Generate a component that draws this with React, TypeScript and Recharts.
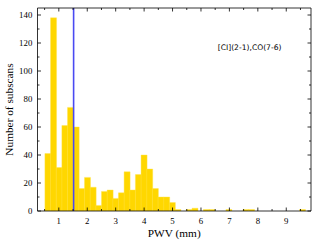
import React from 'react';
import { BarChart, Bar, XAxis, YAxis, ReferenceLine, ReferenceDot } from 'recharts';

// Histogram bins (PWV in mm)
const BIN_START = 0.51;
const BIN_WIDTH = 0.199;
const counts = [
  41, 138, 31, 61, 74, 60, 16, 24, 17, 4,
  14, 15, 9, 13, 28, 15, 26, 40, 30, 16,
  10, 10, 6, 1, 0, 1, 2, 0, 1, 1,
  0, 0, 1, 0, 0, 1, 1, 0, 0, 0,
  0, 0, 0, 0, 0, 1,
];
const xTicks = [0.5, 1, 1.5, 2, 2.5, 3, 3.5, 4, 4.5, 5, 5.5, 6, 6.5, 7, 7.5, 8, 8.5, 9, 9.5];
const yTicks = [0, 10, 20, 30, 40, 50, 60, 70, 80, 90, 100, 110, 120, 130, 140];
const xDomain = [0.25, 9.87];
const yDomain = [0, 145];
const medianPWV = 1.52;
const annotationText = '[CI](2-1),CO(7-6)';
const annotationPos = { x: 7.71, y: 116.6 };

const data = counts.map((c, i) => ({ pwv: BIN_START + BIN_WIDTH * (i + 0.5), count: c }));

const SERIF = '"Liberation Serif", "Times New Roman", serif';
const TICK_FONT = 8.8;
const MAJOR = 3.5;
const MINOR = 2;

const isMajorX = (v: number) => Math.abs(v - Math.round(v)) < 1e-6;
const isMajorY = (v: number) => v % 20 === 0;

const BottomTick = (props: any) => {
  const { x, y, payload } = props;
  const v = payload.value;
  const major = isMajorX(v);
  return (
    <g>
      <line x1={x} y1={y} x2={x} y2={y - (major ? MAJOR : MINOR)} stroke="#000" strokeWidth={0.8} />
      {major && (
        <text x={x} y={y + 12.6} textAnchor="middle" fontFamily={SERIF} fontSize={TICK_FONT} fill="#000">
          {v}
        </text>
      )}
    </g>
  );
};

const TopTick = (props: any) => {
  const { x, y, payload } = props;
  const major = isMajorX(payload.value);
  return <line x1={x} y1={y} x2={x} y2={y + (major ? MAJOR : MINOR)} stroke="#000" strokeWidth={0.8} />;
};

const LeftTick = (props: any) => {
  const { x, y, payload } = props;
  const v = payload.value;
  const major = isMajorY(v);
  return (
    <g>
      <line x1={x} y1={y} x2={x + (major ? MAJOR : MINOR)} y2={y} stroke="#000" strokeWidth={0.8} />
      {major && (
        <text x={x - 5.2} y={y + 3.1} textAnchor="end" fontFamily={SERIF} fontSize={TICK_FONT} fill="#000">
          {v}
        </text>
      )}
    </g>
  );
};

const RightTick = (props: any) => {
  const { x, y, payload } = props;
  const major = isMajorY(payload.value);
  return <line x1={x} y1={y} x2={x - (major ? MAJOR : MINOR)} y2={y} stroke="#000" strokeWidth={0.8} />;
};

export default function App() {
  return (
    <div style={{ position: 'absolute', left: 0, top: 0, width: 319, height: 245, background: '#fff' }}>
      <BarChart width={319} height={245} data={data} margin={{ top: 0, right: 0, bottom: 0, left: 0 }} barCategoryGap={0} barGap={0}>
        <XAxis
          dataKey="pwv"
          type="number"
          domain={xDomain}
          allowDataOverflow
          ticks={xTicks}
          interval={0}
          height={34}
          tickSize={0}
          tickMargin={0}
          tickLine={false}
          tick={<BottomTick />}
          axisLine={{ stroke: '#000', strokeWidth: 0.8 }}
          label={{ value: 'PWV (mm)', position: 'insideBottom', offset: 8, fontFamily: SERIF, fontSize: 11.3, fill: '#000' }}
        />
        <XAxis
          xAxisId="top"
          orientation="top"
          dataKey="pwv"
          type="number"
          domain={xDomain}
          allowDataOverflow
          ticks={xTicks}
          interval={0}
          height={8}
          tickSize={0}
          tickMargin={0}
          tickLine={false}
          tick={<TopTick />}
          axisLine={{ stroke: '#000', strokeWidth: 0.8 }}
        />
        <YAxis
          type="number"
          domain={yDomain}
          allowDataOverflow
          ticks={yTicks}
          interval={0}
          width={37.5}
          tickSize={0}
          tickMargin={0}
          tickLine={false}
          tick={<LeftTick />}
          axisLine={{ stroke: '#000', strokeWidth: 0.8 }}
          label={{
            value: 'Number of subscans',
            angle: -90,
            position: 'insideLeft',
            offset: 9,
            fontFamily: SERIF,
            fontSize: 11.3,
            fill: '#000',
            style: { textAnchor: 'middle' },
          }}
        />
        <YAxis
          yAxisId="right"
          orientation="right"
          type="number"
          domain={yDomain}
          allowDataOverflow
          ticks={yTicks}
          interval={0}
          width={8}
          tickSize={0}
          tickMargin={0}
          tickLine={false}
          tick={<RightTick />}
          axisLine={{ stroke: '#000', strokeWidth: 0.8 }}
        />
        <Bar dataKey="count" fill="#FFD700" stroke="#FFE24A" strokeWidth={0.4} isAnimationActive={false} />
        <ReferenceLine x={medianPWV} stroke="#4a4af2" strokeWidth={1.6} />
        <ReferenceDot
          x={annotationPos.x}
          y={annotationPos.y}
          r={0}
          fill="none"
          stroke="none"
          label={{ value: annotationText, position: 'center', fontFamily: '"DejaVu Sans", sans-serif', fontSize: 7.6, fill: '#000' }}
        />
      </BarChart>
    </div>
  );
}
